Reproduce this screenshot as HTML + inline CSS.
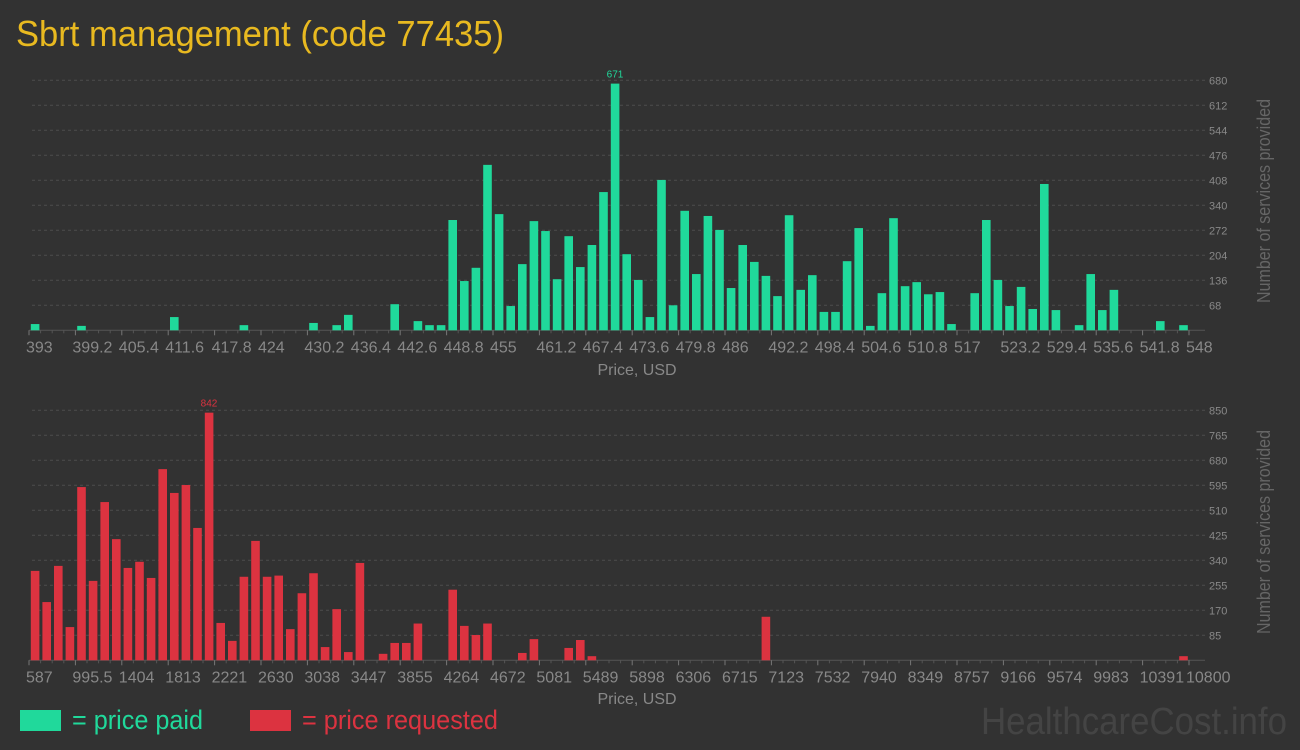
<!DOCTYPE html>
<html><head><meta charset="utf-8"><style>
html,body{margin:0;padding:0;background:#323232;}
svg{display:block;}
text{font-family:"Liberation Sans Narrow","Liberation Sans",sans-serif;}
</style></head><body>
<svg id="chart" width="1300" height="750" viewBox="0 0 1300 750" xmlns="http://www.w3.org/2000/svg">
<rect width="1300" height="750" fill="#323232"/>
<text x="16" y="46" font-size="36" fill="#e8b920" textLength="488" lengthAdjust="spacingAndGlyphs">Sbrt management (code 77435)</text>
<g id="top"></g>
<g id="bot"></g>
<text x="637" y="375" font-size="16" fill="#888" text-anchor="middle">Price, USD</text>
<text x="637" y="704" font-size="16" fill="#888" text-anchor="middle">Price, USD</text>
<text transform="translate(1270,201) rotate(-90)" font-size="18" fill="#666" text-anchor="middle" textLength="204" lengthAdjust="spacingAndGlyphs">Number of services provided</text>
<text transform="translate(1270,532) rotate(-90)" font-size="18" fill="#666" text-anchor="middle" textLength="204" lengthAdjust="spacingAndGlyphs">Number of services provided</text>
<rect x="20" y="710" width="41" height="21" fill="#20d99b"/>
<text x="72" y="729" font-size="27" fill="#20d99b" textLength="131" lengthAdjust="spacingAndGlyphs">= price paid</text>
<rect x="250" y="710" width="41" height="21" fill="#dc3340"/>
<text x="302" y="729" font-size="27" fill="#dc3340" textLength="196" lengthAdjust="spacingAndGlyphs">= price requested</text>
<text x="981" y="734" font-size="38" fill="#444" textLength="306" lengthAdjust="spacingAndGlyphs">HealthcareCost.info</text>
</svg>
<script>
// Top chart data (price paid)
const paidSlots = [0,4,12,18,24,26,27,31,33,34,35,36,37,38,39,40,41,42,43,44,45,46,47,48,49,50,51,52,53,54,55,56,57,58,59,60,61,62,63,64,65,66,67,68,69,70,71,72,73,74,75,76,77,78,79,81,82,83,84,85,86,87,88,90,91,92,93,97,99];
const paidValues = [17,12,36,14,20,14,42,71,25,14,14,300,134,170,450,316,66,180,297,270,139,256,172,232,376,671,207,137,36,409,68,325,153,311,273,115,232,186,148,93,313,110,150,50,50,188,278,12,101,305,120,131,98,104,17,101,300,137,66,118,58,398,55,14,153,55,110,25,14];
const paidTickLabels = ["393","399.2","405.4","411.6","417.8","424","430.2","436.4","442.6","448.8","455","461.2","467.4","473.6","479.8","486","492.2","498.4","504.6","510.8","517","523.2","529.4","535.6","541.8","548"];
const paidYTicks = [68,136,204,272,340,408,476,544,612,680];
const paidMax = 680;
const paidPeakLabel = "671";
// Bottom chart data (price requested)
const reqSlots = [0,1,2,3,4,5,6,7,8,9,10,11,12,13,14,15,16,17,18,19,20,21,22,23,24,25,26,27,28,30,31,32,33,36,37,38,39,42,43,46,47,48,63,99];
const reqValues = [304,198,321,113,589,270,538,412,314,335,280,650,569,596,450,842,127,66,284,406,284,288,106,228,296,45,174,28,331,22,59,59,125,240,117,86,125,25,72,42,69,14,148,14];
const reqTickLabels = ["587","995.5","1404","1813","2221","2630","3038","3447","3855","4264","4672","5081","5489","5898","6306","6715","7123","7532","7940","8349","8757","9166","9574","9983","10391","10800"];
const reqYTicks = [85,170,255,340,425,510,595,680,765,850];
const reqMax = 850;
const reqPeakLabel = "842";

const NS = "http://www.w3.org/2000/svg";
const X0 = 29, SLOT = 11.6, NSLOTS = 100;
function xSlot(i){ return X0 + i*SLOT; }
function mk(tag, attrs, parent){ const e=document.createElementNS(NS,tag); for(const k in attrs) e.setAttribute(k,attrs[k]); parent.appendChild(e); return e; }

function drawChart(g, slots, values, ticks, yTicks, maxV, base, color, peakLabel, prefix){
  const H = 250;
  const yScale = v => base - v*H/maxV;
  yTicks.forEach(t=>{
    const y=yScale(t);
    const l=mk('line',{x1:32,x2:1205,y1:y,y2:y,stroke:'#4c4c4c','stroke-dasharray':'3,3','stroke-width':1},g);
    
    
    const tx=mk('text',{x:1209,y:y+4,'font-size':11,fill:'#888'},g);
    tx.textContent=String(t);
    
    
  });
  const ax=mk('line',{x1:29,x2:1205,y1:base,y2:base,stroke:'#555','stroke-width':1},g);
  
  
  for(let i=0;i<=NSLOTS;i++){
    const x=xSlot(i); const major = i%4===0;
    const tk=mk('line',{x1:x,x2:x,y1:base,y2:base+(major?5:3),stroke:major?'#777':'#555','stroke-width':1},g);
    
    
  }
  ticks.forEach((lab,k)=>{
    const tx=mk('text',{x:xSlot(k*4)-3,y:base+22,'font-size':16,fill:'#888'},g);
    tx.textContent=lab;
    
    
  });
  let peakI=0;
  values.forEach((v,j)=>{ if(v>values[peakI]) peakI=j; });
  slots.forEach((s,j)=>{
    const v=values[j]; const y=yScale(v);
    const r=mk('rect',{x:xSlot(s)+1.8,y:y,width:8.6,height:base-y,fill:color},g);
    
    
  });
  const ps=slots[peakI];
  const pt=mk('text',{x:xSlot(ps)+6,y:yScale(values[peakI])-6,'font-size':10,fill:color,'text-anchor':'middle'},g);
  pt.textContent=peakLabel;
  
  
}
drawChart(document.getElementById('top'), paidSlots, paidValues, paidTickLabels, paidYTicks, paidMax, 330.3, '#20d99b', paidPeakLabel, 'paid');
drawChart(document.getElementById('bot'), reqSlots, reqValues, reqTickLabels, reqYTicks, reqMax, 660.3, '#dc3340', reqPeakLabel, 'requested');
</script>
</body></html>
